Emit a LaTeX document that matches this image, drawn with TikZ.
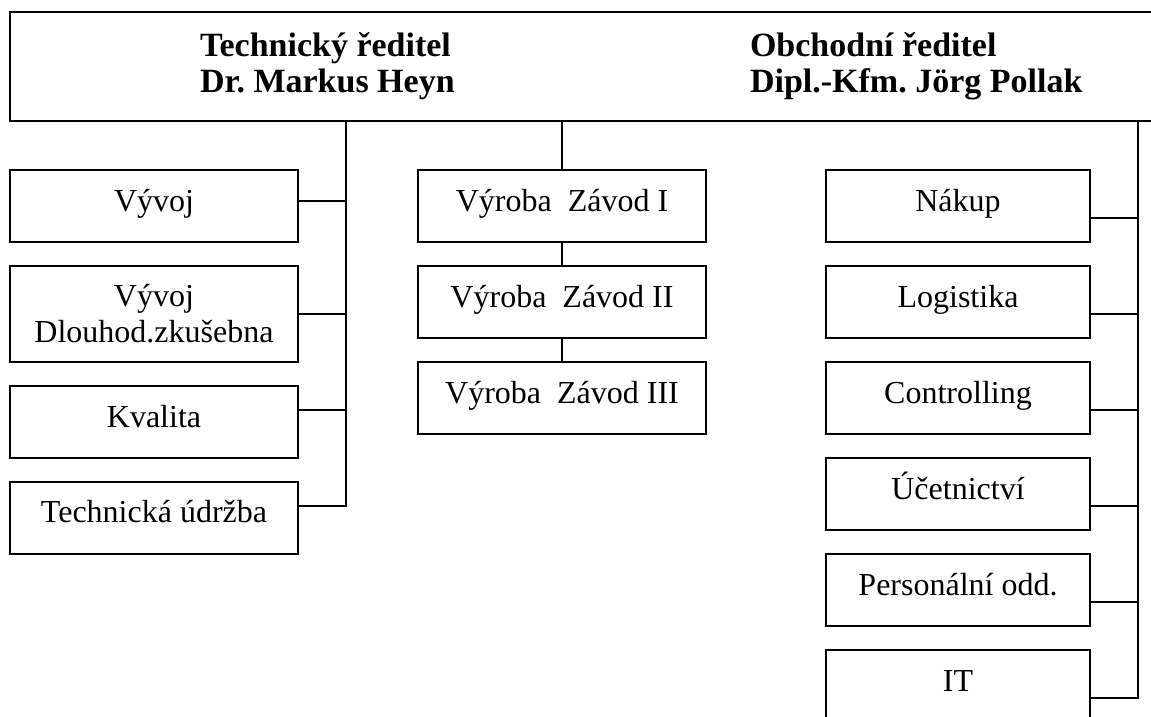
\documentclass[tikz,border=0pt]{standalone}
\usepackage{fontspec}
\setmainfont{Liberation Serif}
\frenchspacing
\begin{document}
\begin{tikzpicture}[x=0.5pt,y=-0.5pt,
  every node/.style={inner sep=0pt, outer sep=0pt},
  unitbox/.style={draw, line width=1pt, rectangle, anchor=north west,
    minimum height=36pt},
  wideunit/.style={unitbox, minimum width=144pt},
  narrowunit/.style={unitbox, minimum width=132pt},
  tallunit/.style={minimum height=48pt},
  unittext/.style={anchor=base, font=\fontsize{16}{18}\selectfont},
  headtext/.style={anchor=base west, font=\fontsize{17}{18}\selectfont\bfseries},
  link/.style={draw, line width=1pt, line join=miter}
]
\useasboundingbox (0,0) rectangle (1151,717);

% management header (runs off the right edge)
\node[draw, line width=1.1pt, rectangle, anchor=north west,
  minimum width=577.5pt, minimum height=54.5pt] (head) at (10,12) {};
\node[headtext] (tech) at (200,57)
  {\begin{tabular}[t]{@{}l@{}}Technický ředitel\\Dr. Markus Heyn\end{tabular}};
\node[headtext] (comm) at (750,57)
  {\begin{tabular}[t]{@{}l@{}}Obchodní ředitel\\Dipl.-Kfm. Jörg Pollak\end{tabular}};

% trunk positions
\coordinate (ltrunk) at (346,0);
\coordinate (mtrunk) at (562,0);
\coordinate (rtrunk) at (1138,0);

% technical departments
\node[wideunit] (vyv) at (10,170) {};
\node[wideunit, tallunit] (dlz) at (10,266) {};
\node[wideunit] (kva) at (10,386) {};
\node[wideunit] (tud) at (10,482) {};
\node[unittext] at ([yshift=-20.5pt]vyv.north) {Vývoj};
\node[unittext] at ([yshift=-20pt]dlz.north)
  {\begin{tabular}[t]{@{}c@{}}Vývoj\\Dlouhod.zkušebna\end{tabular}};
\node[unittext] at ([yshift=-20.5pt]kva.north) {Kvalita};
\node[unittext] at ([yshift=-20pt]tud.north) {Technická údržba};

% production plants
\node[wideunit] (zi) at (418,170) {};
\node[wideunit] (zii) at (418,266) {};
\node[wideunit] (ziii) at (418,362) {};
\node[unittext] at ([yshift=-20.5pt]zi.north) {Výroba\ \ Závod I};
\node[unittext] at ([yshift=-20.5pt]zii.north) {Výroba\ \ Závod II};
\node[unittext] at ([yshift=-20.5pt]ziii.north) {Výroba\ \ Závod III};

% commercial departments
\node[narrowunit] (nak) at (826,170) {};
\node[narrowunit] (log) at (826,266) {};
\node[narrowunit] (con) at (826,362) {};
\node[narrowunit] (uce) at (826,458) {};
\node[narrowunit] (per) at (826,554) {};
\node[narrowunit] (it) at (826,650) {};
\node[unittext] at ([yshift=-20.5pt]nak.north) {Nákup};
\node[unittext] at ([yshift=-20.5pt]log.north) {Logistika};
\node[unittext] at ([yshift=-20.5pt]con.north) {Controlling};
\node[unittext] at ([yshift=-20.5pt]uce.north) {Účetnictví};
\node[unittext] at ([yshift=-20.5pt]per.north) {Personální odd.};
\node[unittext] at ([yshift=-20.5pt]it.north) {IT};

% attachment points on the unit boxes
\coordinate (a1) at ([yshift=-15.5pt]vyv.north east);
\coordinate (a2) at ([yshift=-24pt]dlz.north east);
\coordinate (a3) at ([yshift=-12pt]kva.north east);
\coordinate (a4) at ([yshift=-12pt]tud.north east);
\coordinate (b1) at ([yshift=-24pt]nak.north east);
\coordinate (b2) at ([yshift=-24pt]log.north east);
\coordinate (b3) at ([yshift=-24pt]con.north east);
\coordinate (b4) at ([yshift=-24pt]uce.north east);
\coordinate (b5) at ([yshift=-24pt]per.north east);
\coordinate (b6) at ([yshift=-24pt]it.north east);

% left tree
\path[link] (head.south -| ltrunk) -- (a4 -| ltrunk) -- (a4);
\path[link] (a1) -- (a1 -| ltrunk);
\path[link] (a2) -- (a2 -| ltrunk);
\path[link] (a3) -- (a3 -| ltrunk);

% middle chain
\path[link] (head.south -| mtrunk) -- (zi.north);
\path[link] (zi.south) -- (zii.north);
\path[link] (zii.south) -- (ziii.north);

% right tree
\path[link] (head.south -| rtrunk) -- (b6 -| rtrunk) -- (b6);
\path[link] (b1) -- (b1 -| rtrunk);
\path[link] (b2) -- (b2 -| rtrunk);
\path[link] (b3) -- (b3 -| rtrunk);
\path[link] (b4) -- (b4 -| rtrunk);
\path[link] (b5) -- (b5 -| rtrunk);
\end{tikzpicture}
\end{document}
